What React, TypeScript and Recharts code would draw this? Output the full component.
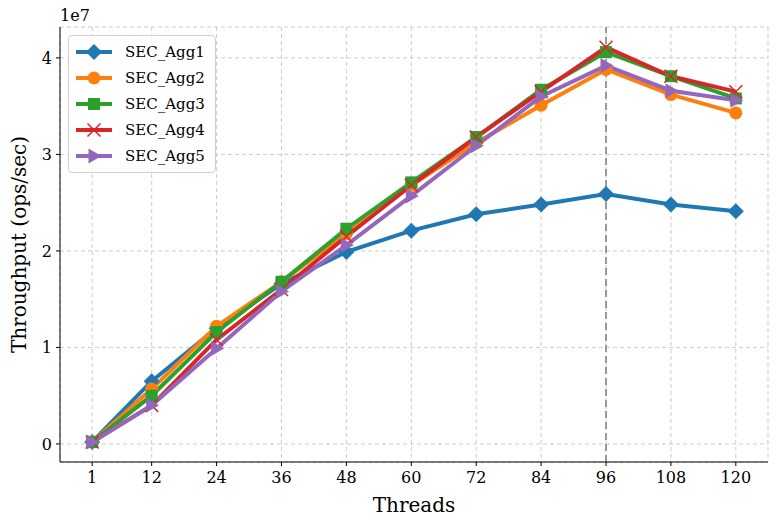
import React from "react";
import {
  LineChart,
  Line,
  XAxis,
  YAxis,
  CartesianGrid,
  Legend,
  ReferenceLine,
} from "recharts";

const threads = [1, 12, 24, 36, 48, 60, 72, 84, 96, 108, 120];
const agg1 = [0.02e7, 0.65e7, 1.2e7, 1.66e7, 1.99e7, 2.21e7, 2.38e7, 2.48e7, 2.59e7, 2.48e7, 2.41e7];
const agg2 = [0.02e7, 0.57e7, 1.22e7, 1.68e7, 2.18e7, 2.68e7, 3.12e7, 3.51e7, 3.88e7, 3.62e7, 3.43e7];
const agg3 = [0.02e7, 0.5e7, 1.16e7, 1.68e7, 2.23e7, 2.71e7, 3.18e7, 3.67e7, 4.06e7, 3.81e7, 3.58e7];
const agg4 = [0.02e7, 0.4e7, 1.08e7, 1.6e7, 2.15e7, 2.68e7, 3.18e7, 3.65e7, 4.11e7, 3.81e7, 3.65e7];
const agg5 = [0.02e7, 0.4e7, 0.99e7, 1.58e7, 2.06e7, 2.57e7, 3.09e7, 3.6e7, 3.92e7, 3.66e7, 3.56e7];
const yTicks = [0, 1e7, 2e7, 3e7, 4e7];
const peakThreads = 96;

const data = threads.map((t, i) => ({
  t,
  SEC_Agg1: agg1[i],
  SEC_Agg2: agg2[i],
  SEC_Agg3: agg3[i],
  SEC_Agg4: agg4[i],
  SEC_Agg5: agg5[i],
}));

const FONT = "'DejaVu Serif', serif";

// marker shapes, roughly matplotlib's D / o / s / x / >
const Marker = ({ kind, cx, cy, color }: any) => {
  if (cx == null || cy == null) return null;
  switch (kind) {
    case "diamond":
      return (
        <path
          d={`M${cx},${cy - 8} L${cx + 8},${cy} L${cx},${cy + 8} L${cx - 8},${cy} Z`}
          fill={color}
        />
      );
    case "circle":
      return <circle cx={cx} cy={cy} r={6.5} fill={color} />;
    case "square":
      return <rect x={cx - 6} y={cy - 6} width={12} height={12} fill={color} />;
    case "x":
      return (
        <path
          d={`M${cx - 6.5},${cy - 6.5} L${cx + 6.5},${cy + 6.5} M${cx - 6.5},${cy + 6.5} L${cx + 6.5},${cy - 6.5}`}
          stroke={color}
          strokeWidth={1.5}
          fill="none"
        />
      );
    case "tri":
      return (
        <path
          d={`M${cx + 7.5},${cy} L${cx - 5.5},${cy - 7.5} L${cx - 5.5},${cy + 7.5} Z`}
          fill={color}
        />
      );
    default:
      return null;
  }
};

const series = [
  { key: "SEC_Agg1", color: "#1f77b4", kind: "diamond" },
  { key: "SEC_Agg2", color: "#ff7f0e", kind: "circle" },
  { key: "SEC_Agg3", color: "#2ca02c", kind: "square" },
  { key: "SEC_Agg4", color: "#d62728", kind: "x" },
  { key: "SEC_Agg5", color: "#9467bd", kind: "tri" },
];

const LegendBox = () => (
  <div
    style={{
      border: "1px solid #d0d0d0",
      borderRadius: 4,
      background: "rgba(255,255,255,0.85)",
      padding: "3px 10px 3px 5px",
      fontFamily: FONT,
      fontSize: 15,
      textAlign: "left",
    }}
  >
    {series.map((s) => (
      <div key={s.key} style={{ display: "flex", alignItems: "center", height: 26 }}>
        <svg width={40} height={20}>
          <line x1={2} y1={10} x2={38} y2={10} stroke={s.color} strokeWidth={4} />
          <Marker kind={s.kind} cx={20} cy={10} color={s.color} />
        </svg>
        <span style={{ marginLeft: 11 }}>{s.key}</span>
      </div>
    ))}
  </div>
);

export default function App() {
  return (
    <div style={{ position: "absolute", left: 0, top: 0, width: 778, height: 527, background: "#fff" }}>
      <div
        style={{
          position: "absolute",
          left: 60,
          top: 6,
          fontFamily: FONT,
          fontSize: 16,
        }}
      >
        1e7
      </div>
      <LineChart
        width={778}
        height={527}
        data={data}
        margin={{ top: 27, right: 10, bottom: 15, left: 0 }}
      >
        <CartesianGrid stroke="#cccccc" strokeDasharray="4 3" />
        <XAxis
          dataKey="t"
          type="number"
          domain={[-4.95, 125.95]}
          ticks={threads}
          allowDataOverflow
          height={50}
          tickSize={4}
          tickMargin={6}
          stroke="#000"
          tick={{ fill: "#000", fontSize: 16, fontFamily: FONT }}
          label={{
            value: "Threads",
            position: "insideBottom",
            offset: 0,
            style: { fontSize: 20, fontFamily: FONT, fill: "#000" },
          }}
        />
        <YAxis
          type="number"
          domain={[-0.187e7, 4.32e7]}
          ticks={yTicks}
          allowDataOverflow
          width={60}
          tickSize={4}
          tickMargin={4}
          stroke="#000"
          tickFormatter={(v: number) => String(Math.round(v / 1e7))}
          tick={{ fill: "#000", fontSize: 16, fontFamily: FONT }}
          label={{
            value: "Throughput (ops/sec)",
            angle: -90,
            position: "insideLeft",
            offset: 19,
            style: { fontSize: 20, fontFamily: FONT, fill: "#000", textAnchor: "middle" },
          }}
        />
        <ReferenceLine x={peakThreads} stroke="#999999" strokeWidth={2} strokeDasharray="7 4" />
        {series.map((s) => (
          <Line
            key={s.key}
            dataKey={s.key}
            name={s.key}
            type="linear"
            stroke={s.color}
            strokeWidth={4}
            isAnimationActive={false}
            dot={(p: any) => <Marker key={`${s.key}-${p.index}`} kind={s.kind} cx={p.cx} cy={p.cy} color={s.color} />}
            activeDot={false}
          />
        ))}
        <Legend
          content={<LegendBox />}
          layout="horizontal"
          align="center"
          verticalAlign="middle"
          wrapperStyle={{ position: "absolute", left: 68, top: 35, width: "auto" }}
        />
      </LineChart>
    </div>
  );
}
